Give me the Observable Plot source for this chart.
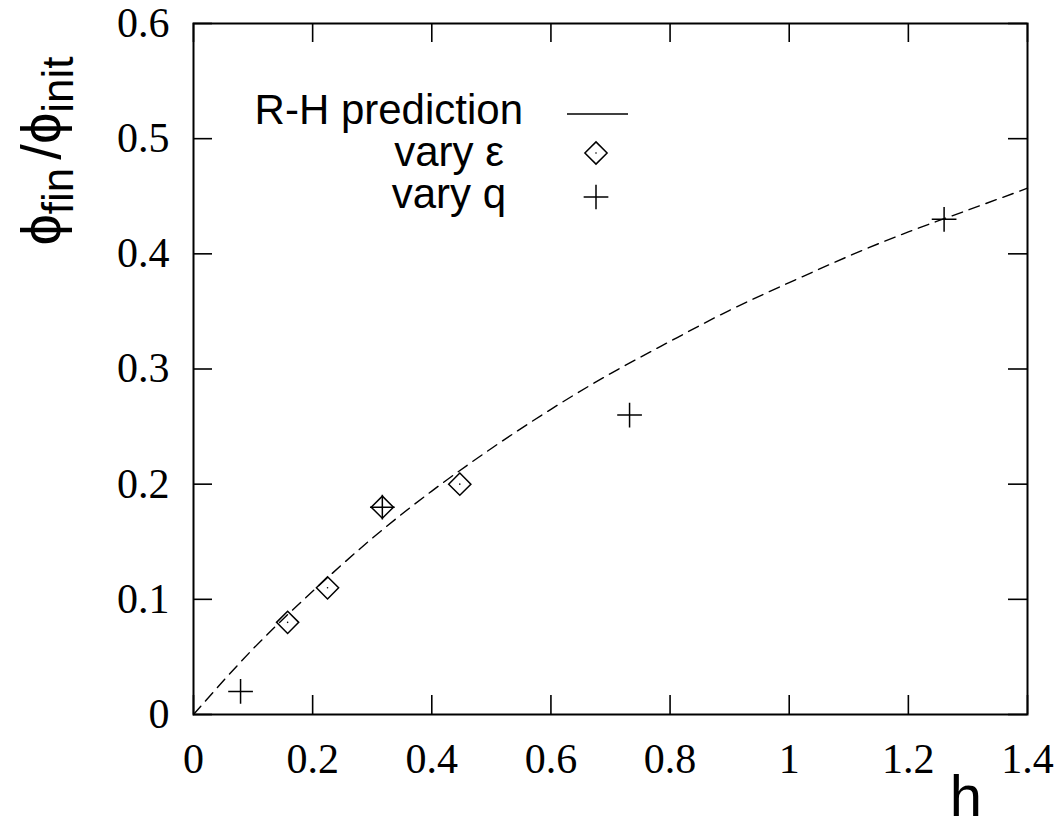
<!DOCTYPE html>
<html><head><meta charset="utf-8">
<script src="https://cdn.jsdelivr.net/npm/d3@7"></script>
<script src="https://cdn.jsdelivr.net/npm/@observablehq/plot@0.6"></script>
<style>body{margin:0;background:#fff} #chart{position:relative;width:1061px;height:827px}</style>
</head><body><div id="chart"></div>
<script>
// ---- data ----
const xTicks = [0, 0.2, 0.4, 0.6, 0.8, 1, 1.2, 1.4];
const yTicks = [0, 0.1, 0.2, 0.3, 0.4, 0.5, 0.6];
const curveH   = [0, 0.1, 0.2, 0.3, 0.4, 0.5, 0.6, 0.7, 0.8, 0.9, 1.0, 1.1, 1.2, 1.3, 1.4];
const curvePhi = [0, 0.057, 0.107, 0.153, 0.194, 0.231, 0.265, 0.296, 0.324, 0.351, 0.375, 0.398, 0.419, 0.438, 0.457];
const varyEpsH   = [0.158, 0.225, 0.317, 0.447];
const varyEpsPhi = [0.080, 0.110, 0.180, 0.200];
const varyQH   = [0.079, 0.317, 0.732, 1.26];
const varyQPhi = [0.020, 0.180, 0.260, 0.430];
const legendLabels = ["R-H prediction", "vary ε", "vary q"];
const xLabel = "h";

// ---- tables ----
const curve = curveH.map((h, i) => ({h, phi: curvePhi[i]}));
const eps = varyEpsH.map((h, i) => ({h, phi: varyEpsPhi[i]}));
const q = varyQH.map((h, i) => ({h, phi: varyQPhi[i]}));

const W = 1061, H = 827, mL = 193, mR = 34, mT = 23, mB = 113;
const innerW = W - mL - mR, innerH = H - mT - mB, tick = 19;
const plusR = 8, diaR = 10;

const chart = Plot.plot({
  width: W, height: H,
  marginLeft: mL, marginRight: mR, marginTop: mT, marginBottom: mB,
  style: {fontFamily: "'Liberation Serif', 'Times New Roman', serif", fontSize: "42px", color: "#000", background: "#fff", overflow: "visible"},
  x: {domain: [0, 1.4], label: null},
  y: {domain: [0, 0.6], label: null},
  marks: [
    Plot.line(curve, {x: "h", y: "phi", stroke: "#000", strokeWidth: 1.4, strokeDasharray: "11,7", curve: "natural"}),
    Plot.dot(eps, {x: "h", y: "phi", symbol: "diamond2", r: diaR, stroke: "#000", strokeWidth: 1.5, fill: "none"}),
    Plot.dot(eps, {x: "h", y: "phi", r: 0.8, fill: "#000", stroke: "none"}),
    Plot.dot(q, {x: "h", y: "phi", symbol: "plus", r: plusR, stroke: "#000", strokeWidth: 1.5}),
    Plot.tickX(xTicks, {x: d => d, insetTop: innerH - tick, stroke: "#000", strokeWidth: 1.6}),
    Plot.tickX(xTicks, {x: d => d, insetBottom: innerH - tick, stroke: "#000", strokeWidth: 1.6}),
    Plot.tickY(yTicks, {y: d => d, insetRight: innerW - tick, stroke: "#000", strokeWidth: 1.6}),
    Plot.tickY(yTicks, {y: d => d, insetLeft: innerW - tick, stroke: "#000", strokeWidth: 1.6}),
    Plot.axisX(xTicks, {tickSize: 0, tickPadding: 29, tickFormat: d => String(d), fontSize: 42}),
    Plot.axisY(yTicks, {tickSize: 0, tickPadding: 24, tickFormat: d => String(d), fontSize: 42}),
    Plot.frame({stroke: "#000", strokeWidth: 2})
  ]
});
document.getElementById("chart").appendChild(chart);

// ---- overlay: axis titles and legend ----
const svg = d3.select(chart);
const sans = "'Liberation Sans', Arial, Helvetica, sans-serif";

// y title with subscripts
const yt = svg.append("text")
  .attr("transform", "translate(60,151) rotate(-90)")
  .attr("text-anchor", "middle")
  .attr("font-family", sans).attr("font-size", 56).attr("fill", "#000");
yt.append("tspan").text("ϕ");
yt.append("tspan").attr("font-size", 44).attr("dy", 13).text("fin");
yt.append("tspan").attr("dy", -13).attr("dx", 8).text("/ϕ");
yt.append("tspan").attr("font-size", 44).attr("dy", 13).text("init");

// x title
svg.append("text").attr("x", 966).attr("y", 816).attr("text-anchor", "middle")
  .attr("font-family", sans).attr("font-size", 58).attr("fill", "#000").text(xLabel);

// legend
const lg = svg.append("g").attr("font-family", sans).attr("font-size", 42).attr("fill", "#000").attr("text-anchor", "end");
const rows = [{x: 523, y: 124}, {x: 504, y: 166}, {x: 506, y: 208}];
legendLabels.forEach((t, i) => lg.append("text").attr("x", rows[i].x).attr("y", rows[i].y).text(t));
lg.append("line").attr("x1", 567).attr("x2", 628).attr("y1", 114).attr("y2", 114)
  .attr("stroke", "#000").attr("stroke-width", 1.5);
lg.append("path").attr("transform", "translate(596,153)")
  .attr("d", d3.symbol(d3.symbolDiamond2, Math.PI * diaR * diaR)())
  .attr("fill", "none").attr("stroke", "#000").attr("stroke-width", 1.5);
lg.append("circle").attr("cx", 596).attr("cy", 153).attr("r", 0.8).attr("fill", "#000");
lg.append("path").attr("transform", "translate(596,197)")
  .attr("d", d3.symbol(d3.symbolPlus, Math.PI * plusR * plusR)())
  .attr("fill", "none").attr("stroke", "#000").attr("stroke-width", 1.5);
</script>
</body></html>
